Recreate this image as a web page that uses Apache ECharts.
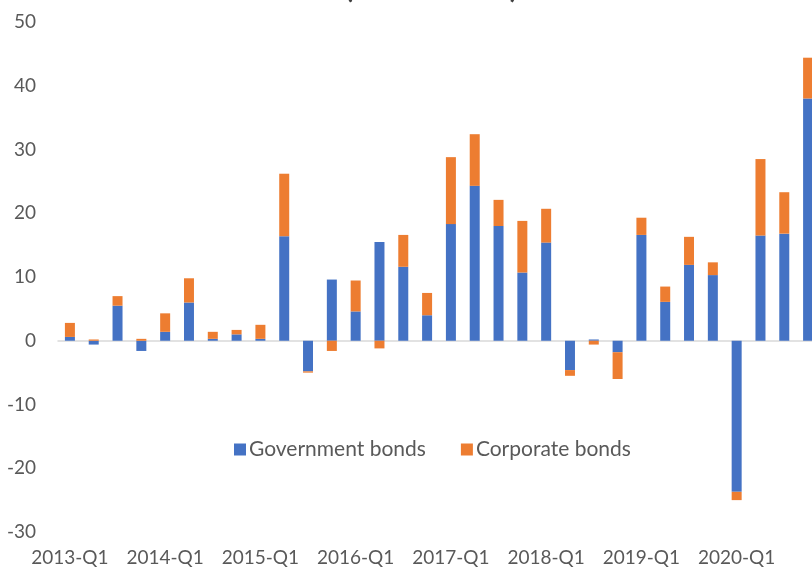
<!DOCTYPE html>
<html>
<head>
<meta charset="utf-8">
<script src="https://cdn.jsdelivr.net/npm/echarts@6/dist/echarts.min.js"></script>
<style>
html,body{margin:0;padding:0;overflow:hidden;background:#fff;width:812px;height:571px;}
#c{position:absolute;left:0;top:-20px;width:822px;height:591px;}
</style>
</head>
<body>
<div id="c"></div>
<script>
const categories = [
  '2013-Q1','2013-Q2','2013-Q3','2013-Q4',
  '2014-Q1','2014-Q2','2014-Q3','2014-Q4',
  '2015-Q1','2015-Q2','2015-Q3','2015-Q4',
  '2016-Q1','2016-Q2','2016-Q3','2016-Q4',
  '2017-Q1','2017-Q2','2017-Q3','2017-Q4',
  '2018-Q1','2018-Q2','2018-Q3','2018-Q4',
  '2019-Q1','2019-Q2','2019-Q3','2019-Q4',
  '2020-Q1','2020-Q2','2020-Q3','2020-Q4'
];
const governmentBonds = [
  0.6, -0.6, 5.5, -1.6,
  1.4, 6.0, 0.3, 1.0,
  0.3, 16.4, -4.8, 9.6,
  4.6, 15.5, 11.6, 4.0,
  18.3, 24.3, 18.0, 10.7,
  15.4, -4.6, 0.2, -1.8,
  16.6, 6.1, 11.9, 10.3,
  -23.7, 16.5, 16.8, 38.0
];
const corporateBonds = [
  2.2, 0.2, 1.5, 0.3,
  2.9, 3.8, 1.1, 0.7,
  2.2, 9.8, -0.2, -1.6,
  4.85, -1.2, 5.0, 3.5,
  10.5, 8.1, 4.1, 8.1,
  5.3, -0.9, -0.6, -4.2,
  2.7, 2.4, 4.4, 2.0,
  -1.3, 12.0, 6.5, 6.4
];
const titleText = '(billion euros)';
const seriesNames = ['Government bonds', 'Corporate bonds'];

const FONT = 'Lato';
const TXT = '#595959';
const chart = echarts.init(document.getElementById('c'));
chart.setOption({
  animation: false,
  title: {
    text: titleText,
    left: 340,
    top: -11,
    textStyle: { fontFamily: FONT, fontSize: 29, fontWeight: 'bold', color: '#404040' }
  },
  legend: {
    data: seriesNames,
    left: 229,
    top: 454,
    icon: 'rect',
    itemWidth: 12,
    itemHeight: 12,
    itemGap: 35,
    textStyle: { fontFamily: FONT, fontSize: 21, color: TXT, padding: [0, 0, 0, -2] }
  },
  grid: { left: 58, right: 2, top: 42, bottom: 39, containLabel: false },
  xAxis: [
    {
      type: 'category',
      data: categories,
      axisLine: { onZero: true, lineStyle: { color: '#D9D9D9', width: 1.5 } },
      axisTick: { show: false },
      axisLabel: { show: false }
    },
    {
      type: 'category',
      data: categories,
      position: 'bottom',
      axisLine: { show: false, onZero: false },
      axisTick: { show: false },
      axisLabel: { interval: 3, margin: 16, fontFamily: FONT, fontSize: 19, color: TXT }
    }
  ],
  yAxis: {
    type: 'value',
    min: -30,
    max: 50,
    interval: 10,
    axisLine: { show: false },
    axisTick: { show: false },
    splitLine: { show: false },
    axisLabel: { margin: 22, fontFamily: FONT, fontSize: 19, color: TXT }
  },
  series: [
    {
      name: seriesNames[0],
      type: 'bar',
      stack: 'total',
      barWidth: 10,
      xAxisIndex: 0,
      data: governmentBonds,
      itemStyle: { color: '#4472C4' }
    },
    {
      name: seriesNames[1],
      type: 'bar',
      stack: 'total',
      barWidth: 10,
      xAxisIndex: 0,
      data: corporateBonds,
      itemStyle: { color: '#ED7D31' }
    }
  ]
});
</script>
</body>
</html>
